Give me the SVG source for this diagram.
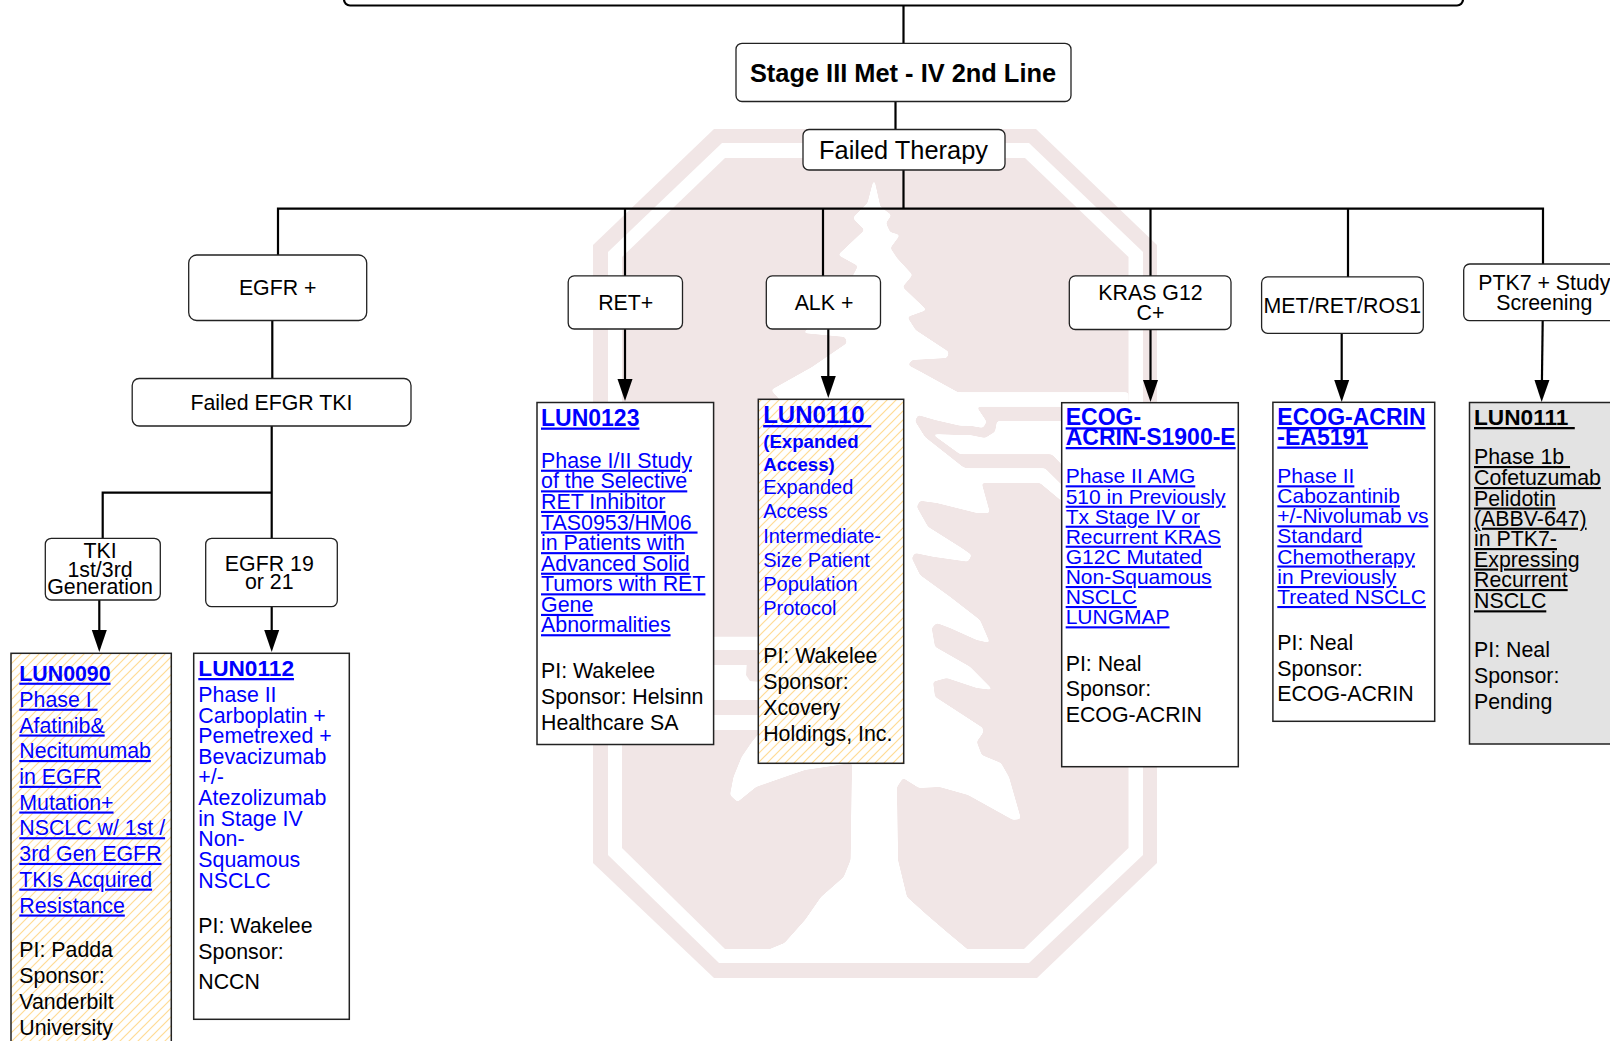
<svg xmlns="http://www.w3.org/2000/svg" width="1610" height="1041" viewBox="0 0 1610 1041">
<style>
text{font-family:"Liberation Sans",Arial,sans-serif;font-size:21.33px;fill:#000}
.c{text-anchor:middle}
.b{fill:#00f}
.u{text-decoration:underline}
.t{font-weight:700;font-size:22.67px;text-decoration:underline}
.h{font-size:25.4px}
.m{font-size:21px}
.e{font-size:23px}
.n{fill:#fff;stroke:#222;stroke-width:1.3}
.s{stroke:#222;stroke-width:1.5}
.w{fill:#f1e6e6}
.x{fill:#fff}
.l{fill:none;stroke:#000;stroke-width:2.2}
</style>
<defs>
<marker id="ah" markerUnits="userSpaceOnUse" markerWidth="24" markerHeight="16" refX="11" refY="7.500" orient="auto" viewBox="0 0 24 15"><path d="M0 0L22 7.500L0 15z" fill="#000"/></marker>
<pattern id="hatch" patternUnits="userSpaceOnUse" width="9" height="9"><rect width="9" height="9" fill="#fff"/><path d="M-1 1L1 -1M0 9L9 0M8 10L10 8" stroke="#ffdb94" stroke-width="1.2"/></pattern>
<filter id="soft" x="-5%" y="-5%" width="110%" height="110%" color-interpolation-filters="sRGB"><feGaussianBlur stdDeviation="1.800"/><feComponentTransfer><feFuncA type="linear" slope="7" intercept="-3"/></feComponentTransfer></filter>
</defs>
<g id="watermark">
<path class="w" d="M714 129H1036L1157 245V863L1037 978H714L593 863V245z"/>
<path class="x" d="M722 143H1029L1143 252V855L1029 963H719L608 855V252z"/>
<path class="w" d="M725 158H1025L1128.500 257V848L1024 949H725L622 848V257z"/>
<g filter="url(#soft)">
<path class="x" d="M874 178L880.400 206.700L891.500 215L886 223L890 232L900 235L890.400 248L897 258L912.600 275L902.600 287L926.700 310L907.400 317L915.600 330L949 352L947 358L912 360L908 365L923 373L958 392.300H1128.500V406.700H976.700L986.700 421.700L983 428L970 425.700L960 425.700L935 420L918 415L915 421L925 437L963 467L966.700 468.300H1045L1070 493V508L1040 483H981.700L985 495L990 513L976.700 513L936.700 503L920 500.700L916.700 506.700L928 526.700L961.700 548L971.700 555L968 561.700L933 556.700L915 553L911.700 558L920 575L950 596.700L980 620L990 643L976.700 640L950 628L936.700 623L931.700 628L935 646.700L970 666.700L993 690L976.700 688L946.700 678L933 681.700L935 696.700L960 713L983 728L983 733L976.700 741.700L981.700 755L1001 763L1009 777L1021 819L1013 820L968 795L939.600 787L919 788L903 778L897 787L898 860L907 897L927 915L948 933L972 953H760L784.500 943L805 920L821 897L843.700 877L850.600 860L852 763L805 770L784.500 777L756 787L737.500 802L730 795L733.500 777L741.600 757L752 741.700L770 720L780 400L771 390L812 367L847 343L845 337L803 333L840 300L858 266L838 255L864.500 230L852.700 218L867.500 203z"/>
<path class="x" d="M997 421H1070V473L1051.700 454.300H960L932 434L960 435L970 435L985 438L995 431.700z"/>
</g>
<path class="x" d="M700 636.700H760V650H700zM700 665H746.700L746 675L750 681L760 682V700H700zM700 715H760V730H700z"/>
</g>
<g id="connectors">
<path class="l" d="M903.500 5V43M895.500 101V130M903.500 170V208.600M278 255V208.600H1543V264M625 208.600V276M823 208.600V276M1150.500 208.600V276M1348 208.600V277"/>
<path class="l" d="M272.300 320V378M271.700 426V538M271.700 492.700H102.700V538"/>
<path class="l" marker-end="url(#ah)" d="M99.300 600V641"/>
<path class="l" marker-end="url(#ah)" d="M271.700 606.700V641"/>
<path class="l" marker-end="url(#ah)" d="M625 329V390"/>
<path class="l" marker-end="url(#ah)" d="M828.300 329V387"/>
<path class="l" marker-end="url(#ah)" d="M1150.500 329V391"/>
<path class="l" marker-end="url(#ah)" d="M1341.700 333V391"/>
<path class="l" marker-end="url(#ah)" d="M1542.700 320.700L1541.800 391"/>
</g>
<g id="top-box"><rect class="n" style="stroke:#000;stroke-width:2.2" x="344" y="-20" width="1119" height="25.500" rx="6"/></g>
<g id="stage"><rect class="n" x="736" y="43.300" width="335" height="58.200" rx="6"/><text class="c h" x="903" y="81.700" style="font-weight:700">Stage III Met - IV 2nd Line</text></g>
<g id="failed-therapy"><rect class="n" x="803" y="129.500" width="202" height="40.500" rx="6"/><text class="c h" x="903.500" y="159">Failed Therapy</text></g>
<g id="egfr"><rect class="n" x="188.700" y="255" width="178" height="65.500" rx="8"/><text class="c" x="277.700" y="295">EGFR +</text></g>
<g id="failed-tki"><rect class="n" x="132.200" y="378.500" width="278.800" height="47.500" rx="7"/><text class="c" x="271.400" y="410">Failed EFGR TKI</text></g>
<g id="tki"><rect class="n" x="45.300" y="538.300" width="115" height="61.700" rx="6"/><text class="c" x="100" y="558.300">TKI</text><text class="c" x="100" y="576.700">1st/3rd</text><text class="c" x="100" y="594.300">Generation</text></g>
<g id="egfr1921"><rect class="n" x="205.700" y="538.300" width="131.600" height="68.400" rx="6"/><text class="c" x="269.300" y="570.700">EGFR 19</text><text class="c" x="269.300" y="588.700">or 21</text></g>
<g id="ret"><rect class="n" x="568.200" y="275.900" width="114.300" height="53.100" rx="6"/><text class="c" x="625.700" y="310">RET+</text></g>
<g id="alk"><rect class="n" x="766.300" y="275.900" width="114.200" height="53.100" rx="6"/><text class="c" x="824" y="310">ALK +</text></g>
<g id="kras"><rect class="n" x="1069.300" y="275.900" width="161.700" height="53.600" rx="6"/><text class="c" x="1150.500" y="299.700">KRAS G12</text><text class="c" x="1150.500" y="320">C+</text></g>
<g id="met"><rect class="n" x="1261.600" y="276.900" width="161.700" height="56.400" rx="6"/><text class="c" x="1342.300" y="312.700">MET/RET/ROS1</text></g>
<g id="ptk7"><rect class="n" x="1463.700" y="264" width="170" height="56.700" rx="6"/><text class="c" x="1544.300" y="290">PTK7 + Study</text><text class="c" x="1544.300" y="310">Screening</text></g>
<g id="lun0090"><rect class="s" fill="url(#hatch)" x="11" y="653.300" width="160.300" height="420"/>
<text class="b t" x="19.300" y="680.700" style="font-size:21.33px">LUN0090</text>
<text class="b u" x="19.300" y="706.700" xml:space="preserve">Phase I </text><text class="b u" x="19.300" y="732.500">Afatinib&amp;</text><text class="b u" x="19.300" y="758">Necitumumab</text><text class="b u" x="19.300" y="783.800">in EGFR</text><text class="b u" x="19.300" y="809.500">Mutation+</text><text class="b u" x="19.300" y="835.200">NSCLC w/ 1st /</text><text class="b u" x="19.300" y="860.900">3rd Gen EGFR</text><text class="b u" x="19.300" y="886.600">TKIs Acquired</text><text class="b u" x="19.300" y="912.500">Resistance</text>
<text x="19.300" y="957">PI: Padda</text><text x="19.300" y="983">Sponsor:</text><text x="19.300" y="1008.600">Vanderbilt</text><text x="19.300" y="1034.700">University</text></g>
<g id="lun0112"><rect class="n s" x="193.700" y="653.300" width="155.600" height="366"/>
<text class="b t" x="198.300" y="676">LUN0112</text>
<text class="b" x="198.300" y="702.300">Phase II</text><text class="b" x="198.300" y="722.700">Carboplatin +</text><text class="b" x="198.300" y="743.300">Pemetrexed +</text><text class="b" x="198.300" y="763.800">Bevacizumab</text><text class="b" x="198.300" y="784.400">+/-</text><text class="b" x="198.300" y="805">Atezolizumab</text><text class="b" x="198.300" y="825.500">in Stage IV</text><text class="b" x="198.300" y="846">Non-</text><text class="b" x="198.300" y="866.600">Squamous</text><text class="b" x="198.300" y="887.500">NSCLC</text>
<text x="198.300" y="932.700">PI: Wakelee</text><text x="198.300" y="959">Sponsor:</text><text x="198.300" y="989.300">NCCN</text></g>
<g id="lun0123"><rect class="n s" x="537" y="402.500" width="176.600" height="342"/>
<text class="b t" x="541" y="425.500" style="font-size:23px">LUN0123</text>
<text class="b u" x="541" y="467.700" style="font-size:21.4px">Phase I/II Study</text><text class="b u" x="541" y="488.300" style="font-size:21.4px">of the Selective</text><text class="b u" x="541" y="508.900" style="font-size:21.4px">RET Inhibitor</text><text class="b u" x="541" y="529.500" style="font-size:21.4px" xml:space="preserve">TAS0953/HM06 </text><text class="b u" x="541" y="550.100" style="font-size:21.4px">in Patients with</text><text class="b u" x="541" y="570.700" style="font-size:21.4px">Advanced Solid</text><text class="b u" x="541" y="591.300" style="font-size:21.4px">Tumors with RET</text><text class="b u" x="541" y="611.900" style="font-size:21.4px">Gene</text><text class="b u" x="541" y="632.200" style="font-size:21.4px">Abnormalities</text>
<text x="541" y="678">PI: Wakelee</text><text x="541" y="704">Sponsor: Helsinn</text><text x="541" y="730">Healthcare SA</text></g>
<g id="lun0110"><rect class="s" fill="url(#hatch)" x="758.300" y="399.300" width="145.400" height="364"/>
<text class="b t" x="763.200" y="423" style="font-size:24px" xml:space="preserve">LUN0110 </text>
<text class="b" x="763.200" y="448.300" style="font-weight:700;font-size:18.67px">(Expanded</text><text class="b" x="763.200" y="470.500" style="font-weight:700;font-size:18.67px">Access)</text>
<text class="b" x="763.200" y="494" style="font-size:20px">Expanded</text><text class="b" x="763.200" y="518" style="font-size:20px">Access</text><text class="b" x="763.200" y="542.700" style="font-size:20px">Intermediate-</text><text class="b" x="763.200" y="566.700" style="font-size:20px">Size Patient</text><text class="b" x="763.200" y="591" style="font-size:20px">Population</text><text class="b" x="763.200" y="615" style="font-size:20px">Protocol</text>
<text x="763.200" y="663.300">PI: Wakelee</text><text x="763.200" y="689">Sponsor:</text><text x="763.200" y="715">Xcovery</text><text x="763.200" y="740.800">Holdings, Inc.</text></g>
<g id="ecog-s1900"><rect class="n s" x="1061.700" y="402.700" width="176.600" height="364"/>
<text class="b t e" x="1065.700" y="425.300">ECOG-</text><text class="b t e" x="1065.700" y="445">ACRIN-S1900-E</text>
<text class="b u m" x="1065.700" y="483.300">Phase II AMG</text><text class="b u m" x="1065.700" y="503.700">510 in Previously</text><text class="b u m" x="1065.700" y="523.700">Tx Stage IV or</text><text class="b u m" x="1065.700" y="543.700">Recurrent KRAS</text><text class="b u m" x="1065.700" y="564">G12C Mutated</text><text class="b u m" x="1065.700" y="584">Non-Squamous</text><text class="b u m" x="1065.700" y="604">NSCLC</text><text class="b u m" x="1065.700" y="624.300">LUNGMAP</text>
<text x="1065.700" y="670.700">PI: Neal</text><text x="1065.700" y="696">Sponsor:</text><text x="1065.700" y="721.700">ECOG-ACRIN</text></g>
<g id="ea5191"><rect class="n s" x="1272.900" y="402.300" width="161.800" height="319"/>
<text class="b t e" x="1277.300" y="425">ECOG-ACRIN</text><text class="b t e" x="1277.300" y="444.500">-EA5191</text>
<text class="b u m" x="1277.300" y="483.300">Phase II</text><text class="b u m" x="1277.300" y="503.300">Cabozantinib</text><text class="b u m" x="1277.300" y="523.300">+/-Nivolumab vs</text><text class="b u m" x="1277.300" y="543.300">Standard</text><text class="b u m" x="1277.300" y="563.500">Chemotherapy</text><text class="b u m" x="1277.300" y="584">in Previously</text><text class="b u m" x="1277.300" y="604">Treated NSCLC</text>
<text x="1277.300" y="650.300">PI: Neal</text><text x="1277.300" y="676.300">Sponsor:</text><text x="1277.300" y="701.300">ECOG-ACRIN</text></g>
<g id="lun0111"><rect class="s" fill="#e3e3e3" x="1469.500" y="402.500" width="170" height="341.500"/>
<text class="t" x="1474" y="425" xml:space="preserve">LUN0111 </text>
<text class="u" x="1474" y="464" xml:space="preserve">Phase 1b </text><text class="u" x="1474" y="485">Cofetuzumab</text><text class="u" x="1474" y="505.500">Pelidotin</text><text class="u" x="1474" y="525.700">(ABBV-647)</text><text class="u" x="1474" y="546">in PTK7-</text><text class="u" x="1474" y="566.500">Expressing</text><text class="u" x="1474" y="587">Recurrent</text><text class="u" x="1474" y="608.300">NSCLC</text>
<text x="1474" y="657.300">PI: Neal</text><text x="1474" y="683">Sponsor:</text><text x="1474" y="709">Pending</text></g>
</svg>
